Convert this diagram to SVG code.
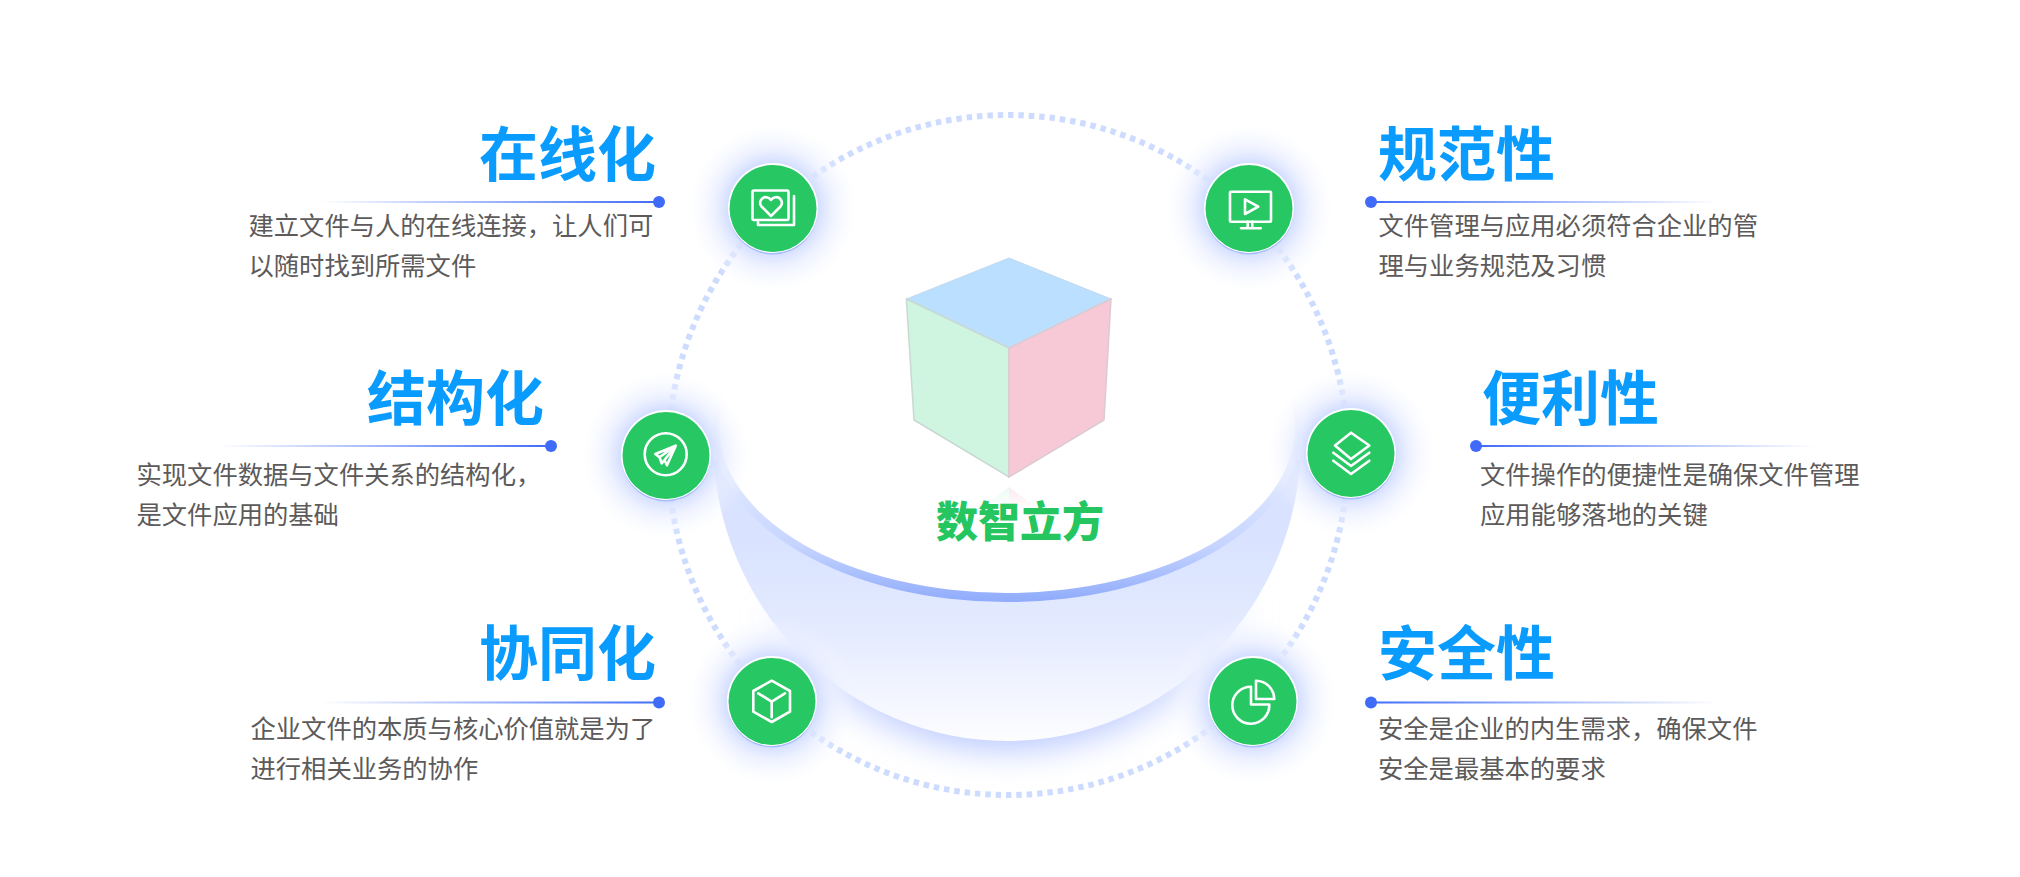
<svg xmlns="http://www.w3.org/2000/svg" width="2020" height="877" viewBox="0 0 2020 877">
<style>
text{font-family:"Noto Sans CJK SC","Noto Sans",sans-serif}
.t{font-size:59px;font-weight:700;fill:#0a9bff}
.b{font-size:25.3px;fill:#5c5a5a}
.c{font-size:42px;font-weight:900;fill:#25c660}
.i{fill:none;stroke:#fff;stroke-width:2.6;stroke-linejoin:round;stroke-linecap:round}
.g{fill:url(#glow)}
.rb{fill:#a9bdfd}
.rw{fill:#fff}
.d{fill:#27c763}
.dot{fill:#3f6bf8}
</style>
<defs>
<radialGradient id="glow"><stop offset="0.52" stop-color="#d0dbff"/><stop offset="0.7" stop-color="#e6ecff" stop-opacity="0.7"/><stop offset="1" stop-color="#f6f8ff" stop-opacity="0"/></radialGradient>
<linearGradient id="lineL"><stop offset="0" stop-color="#3f6bf8" stop-opacity="0"/><stop offset="1" stop-color="#3f6bf8"/></linearGradient>
<linearGradient id="lineR"><stop offset="0" stop-color="#3f6bf8"/><stop offset="1" stop-color="#3f6bf8" stop-opacity="0"/></linearGradient>
<linearGradient id="bowl" gradientUnits="userSpaceOnUse" x1="0" y1="540" x2="0" y2="741"><stop offset="0" stop-color="#d9e3ff"/><stop offset="0.45" stop-color="#e4ebff"/><stop offset="1" stop-color="#fdfdff"/></linearGradient>
<linearGradient id="shadow" gradientUnits="userSpaceOnUse" x1="0" y1="600" x2="0" y2="745"><stop offset="0" stop-color="#c3d1ff" stop-opacity="0"/><stop offset="0.6" stop-color="#bccbff" stop-opacity="0.8"/><stop offset="1" stop-color="#b4c5ff"/></linearGradient>
<linearGradient id="band" gradientUnits="userSpaceOnUse" x1="0" y1="400" x2="0" y2="602"><stop offset="0" stop-color="#fff"/><stop offset="0.4" stop-color="#dfe8ff"/><stop offset="0.72" stop-color="#c6d4ff"/><stop offset="1" stop-color="#8fabfb"/></linearGradient>
<linearGradient id="refL" x1="0" y1="0" x2="0" y2="1"><stop offset="0" stop-color="#d0f5e2" stop-opacity="0.4"/><stop offset="1" stop-color="#d0f5e2" stop-opacity="0"/></linearGradient>
<linearGradient id="refR" x1="0" y1="0" x2="0" y2="1"><stop offset="0" stop-color="#f8c9d7" stop-opacity="0.4"/><stop offset="1" stop-color="#f8c9d7" stop-opacity="0"/></linearGradient>
<filter id="blur" x="-20%" y="-20%" width="140%" height="140%"><feGaussianBlur stdDeviation="16"/></filter>
<clipPath id="bowlClip"><rect x="680" y="460" width="660" height="320"/></clipPath>
<clipPath id="shadowClip"><rect x="640" y="460" width="740" height="400"/></clipPath>
</defs>
<rect width="2020" height="877" fill="#fff"/>
<g id="platform">
<g clip-path="url(#shadowClip)"><ellipse cx="1007" cy="442" rx="298" ry="308" fill="url(#shadow)" filter="url(#blur)"/></g>
<ellipse cx="1007" cy="440" rx="294" ry="301" fill="url(#bowl)" clip-path="url(#bowlClip)"/>
<ellipse cx="1007" cy="430" rx="294" ry="172" fill="url(#band)"/>
<ellipse cx="1007" cy="427" rx="288" ry="166" fill="#fff"/>
</g>
<g id="connectors">
<circle cx="1008" cy="455" r="340" fill="none" stroke="#cddbff" stroke-width="6" stroke-dasharray="5.500 4.900"/>
<rect x="320" y="201" width="339" height="2" fill="url(#lineL)"/>
<rect x="219" y="445" width="332" height="2" fill="url(#lineL)"/>
<rect x="320" y="701.500" width="339" height="2" fill="url(#lineL)"/>
<rect x="1371" y="201" width="347" height="2" fill="url(#lineR)"/>
<rect x="1476" y="445" width="339" height="2" fill="url(#lineR)"/>
<rect x="1371" y="701.500" width="347" height="2" fill="url(#lineR)"/>
<circle class="dot" cx="659" cy="202" r="6"/><circle class="dot" cx="551" cy="446" r="6"/><circle class="dot" cx="659" cy="702.500" r="6"/>
<circle class="dot" cx="1371" cy="202" r="6"/><circle class="dot" cx="1476" cy="446" r="6"/><circle class="dot" cx="1371" cy="702.500" r="6"/>
</g>
<g id="cube">
<polygon points="1009,258 1111,299 1009,348 906.400,299" fill="#bbdffe" stroke="#c2d9f0" stroke-width="1"/>
<polygon points="906.400,299 1009,348 1009,477 914,420" fill="#cff5e1" stroke="#c8d8d2" stroke-width="1.500"/>
<polygon points="1111,299 1009,348 1009,477 1104,420" fill="#f7c9d7" stroke="#dccad2" stroke-width="1.500"/>
<polygon points="1009,487 978,510 1009,510" fill="url(#refL)"/>
<polygon points="1009,487 1040,510 1009,510" fill="url(#refR)"/>
<text class="c" x="1020" y="537" text-anchor="middle">数智立方</text>
</g>
<g id="node-online">
<circle class="g" cx="773" cy="208" r="84"/><circle class="rb" cx="773" cy="210" r="44.500"/><circle class="rw" cx="773" cy="208" r="45"/><circle class="d" cx="773" cy="208.500" r="43.500"/>
<rect class="i" x="752.500" y="190.500" width="36" height="29.500" rx="1.500"/>
<path class="i" d="M794 196V225H758V220.500"/>
<path class="i" d="M771 216L761.500 206.500C758 202 762 196.800 766.500 197.200C768.500 197.400 770 198.400 771 200C772 198.400 773.500 197.400 775.500 197.200C780 196.800 784 202 780.500 206.500Z"/>
<text class="t" x="656" y="176" text-anchor="end">在线化</text>
<text class="b" x="248.500" y="235">建立文件与人的在线连接，让人们可</text>
<text class="b" x="248.500" y="275">以随时找到所需文件</text>
</g>
<g id="node-structured">
<circle class="g" cx="666" cy="455" r="84"/><circle class="rb" cx="666" cy="457" r="44.500"/><circle class="rw" cx="666" cy="455" r="45"/><circle class="d" cx="666" cy="455.500" r="43.500"/>
<circle class="i" cx="665.700" cy="454.300" r="21"/>
<path class="i" d="M675.700 445.700L655.300 454L659.500 457.300L661.700 463.300L664.500 460L667 465.300ZM675.700 445.700L659.500 457.300M675.700 445.700L664.500 460"/>
<text class="t" x="544" y="420" text-anchor="end">结构化</text>
<text class="b" x="136.500" y="484">实现文件数据与文件关系的结构化，</text>
<text class="b" x="136.500" y="524">是文件应用的基础</text>
</g>
<g id="node-collab">
<circle class="g" cx="772" cy="701" r="84"/><circle class="rb" cx="772" cy="703" r="44.500"/><circle class="rw" cx="772" cy="701" r="45"/><circle class="d" cx="772" cy="701.500" r="43.500"/>
<path class="i" d="M771.700 680.700L790 691V711.700L771.700 722L753.300 711.700V691ZM771.700 701.700L758.300 693.300M771.700 701.700L785 693.300M771.700 701.700V717.300"/>
<text class="t" x="656" y="675" text-anchor="end">协同化</text>
<text class="b" x="250.500" y="738">企业文件的本质与核心价值就是为了</text>
<text class="b" x="250.500" y="778">进行相关业务的协作</text>
</g>
<g id="node-standard">
<circle class="g" cx="1249" cy="208" r="84"/><circle class="rb" cx="1249" cy="210" r="44.500"/><circle class="rw" cx="1249" cy="208" r="45"/><circle class="d" cx="1249" cy="208.500" r="43.500"/>
<rect class="i" x="1230" y="191.700" width="41" height="30" rx="1"/>
<path class="i" d="M1247.700 221.700V228.300M1252.300 221.700V228.300M1241 228.300H1260.700M1245 199.300L1258.300 206.700L1245 214Z"/>
<text class="t" x="1378" y="176">规范性</text>
<text class="b" x="1378.500" y="235">文件管理与应用必须符合企业的管</text>
<text class="b" x="1378.500" y="275">理与业务规范及习惯</text>
</g>
<g id="node-convenient">
<circle class="g" cx="1351" cy="453" r="84"/><circle class="rb" cx="1351" cy="455" r="44.500"/><circle class="rw" cx="1351" cy="453" r="45"/><circle class="d" cx="1351" cy="453.500" r="43.500"/>
<path class="i" d="M1351 432.700L1369.300 445.500L1351 459L1335 445.500ZM1333.300 452.700L1351 466L1369.300 452.700M1333.300 460.700L1351 474L1369.300 460.700"/>
<text class="t" x="1482" y="420">便利性</text>
<text class="b" x="1480" y="484">文件操作的便捷性是确保文件管理</text>
<text class="b" x="1480" y="524">应用能够落地的关键</text>
</g>
<g id="node-secure">
<circle class="g" cx="1253" cy="701" r="84"/><circle class="rb" cx="1253" cy="703" r="44.500"/><circle class="rw" cx="1253" cy="701" r="45"/><circle class="d" cx="1253" cy="701.500" r="43.500"/>
<path class="i" d="M1251 686.700A18.500 18.500 0 1 0 1269.300 704.500H1251Z"/>
<path class="i" d="M1256 699V680.700A18.500 18.500 0 0 1 1274.300 699Z"/>
<text class="t" x="1378" y="675">安全性</text>
<text class="b" x="1378" y="738">安全是企业的内生需求，确保文件</text>
<text class="b" x="1378" y="778">安全是最基本的要求</text>
</g>
</svg>
